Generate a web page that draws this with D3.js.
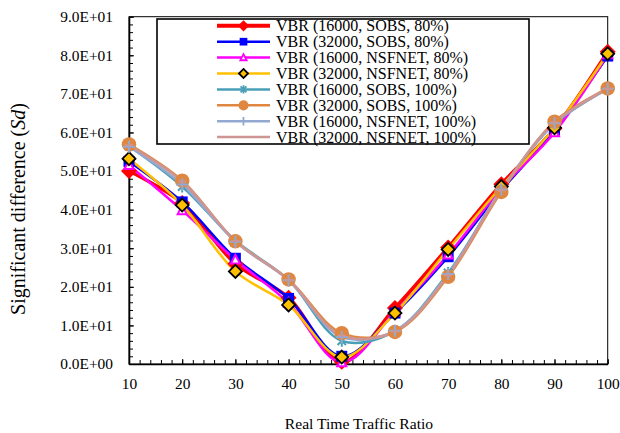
<!DOCTYPE html>
<html>
<head>
<meta charset="utf-8">
<script src="https://cdn.jsdelivr.net/npm/d3@7"></script>
</head>
<body style="margin:0;background:#fff">
<div id="chart"></div>
<script>

//Data
var ratios = [10, 20, 30, 40, 50, 60, 70, 80, 90, 100];
var seriesNames = [
    "VBR (16000, SOBS, 80%)",
    "VBR (32000, SOBS, 80%)",
    "VBR (16000, NSFNET, 80%)",
    "VBR (32000, NSFNET, 80%)",
    "VBR (16000, SOBS, 100%)",
    "VBR (32000, SOBS, 100%)",
    "VBR (16000, NSFNET, 100%)",
    "VBR (32000, NSFNET, 100%)"
];
var vbr16kSobs80  = [50.0, 41.7, 26.0, 17.2, 0.6, 14.5, 30.2, 46.6, 61.0, 80.9];
var vbr32kSobs80  = [52.5, 42.0, 27.4, 17.0, 2.0, 13.2, 27.8, 45.0, 60.6, 79.8];
var vbr16kNsf80   = [51.5, 39.8, 27.0, 15.8, 0.4, 13.5, 28.3, 45.5, 60.0, 80.2];
var vbr32kNsf80   = [53.2, 41.2, 24.0, 15.3, 1.8, 13.2, 29.7, 46.0, 61.2, 80.4];
var vbr16kSobs100 = [56.5, 46.0, 32.0, 21.8, 6.0, 8.5, 23.6, 45.0, 62.3, 71.3];
var vbr32kSobs100 = [56.9, 47.5, 31.8, 21.9, 8.0, 8.3, 22.6, 44.6, 62.8, 71.4];
var vbr16kNsf100  = [56.3, 46.5, 31.7, 21.7, 7.0, 8.6, 23.3, 45.2, 62.4, 71.3];
var vbr32kNsf100  = [56.7, 47.3, 31.9, 21.8, 7.4, 8.4, 23.0, 45.0, 62.6, 71.3];
var yTicks = [0, 10, 20, 30, 40, 50, 60, 70, 80, 90];

var seriesValues = [vbr16kSobs80, vbr32kSobs80, vbr16kNsf80, vbr32kNsf80,
                    vbr16kSobs100, vbr32kSobs100, vbr16kNsf100, vbr32kNsf100];

var FONT = "'Liberation Serif', 'Times New Roman', serif";

//Styles (one per series)
var styles = [
    {color: "#ff0000", width: 3.5, marker: "diamond", size: 16, fill: "#ff0000", stroke: "none"},
    {color: "#0000ff", width: 2.5, marker: "square", size: 11, fill: "#0000ff", stroke: "none"},
    {color: "#ff00ff", width: 2.5, marker: "triangle", size: 10, fill: "#ffffff", stroke: "#ff00ff"},
    {color: "#ffc000", width: 2.5, marker: "diamond", size: 13, fill: "#ffc000", stroke: "#000000"},
    {color: "#4a9fb8", width: 2.5, marker: "asterisk", size: 12, fill: "none", stroke: "#4a9fb8"},
    {color: "#df8741", width: 2.5, marker: "circle", size: 14.5, fill: "#df8741", stroke: "none"},
    {color: "#93a9d2", width: 2.5, marker: "plus", size: 12, fill: "none", stroke: "#93a9d2"},
    {color: "#cf9592", width: 2.5, marker: "dash", size: 8, fill: "none", stroke: "#cf9592"}
];

var chart = {

  //**************************************************************************
  //** markerPath
  //**************************************************************************
    markerPath: function(type, s){
        var h = s/2;
        switch (type) {
            case "diamond":
                return "M0," + (-h) + "L" + h + ",0L0," + h + "L" + (-h) + ",0Z";
            case "square":
                return "M" + (-h) + "," + (-h) + "h" + s + "v" + s + "h" + (-s) + "Z";
            case "triangle":
                return "M0," + (-h) + "L" + (h*0.9) + "," + (h*0.75) + "L" + (-h*0.9) + "," + (h*0.75) + "Z";
            case "circle":
                return d3.symbol(d3.symbolCircle, Math.PI*h*h)();
            case "asterisk":
                var d = h*0.7;
                return "M" + (-d) + "," + (-d) + "L" + d + "," + d +
                       "M" + d + "," + (-d) + "L" + (-d) + "," + d +
                       "M0," + (-h) + "L0," + h;
            case "plus":
                return "M" + (-h) + ",0L" + h + ",0M0," + (-h) + "L0," + h;
            case "dash":
                return "M" + (-h) + ",0L" + h + ",0";
        }
    },

  //**************************************************************************
  //** expFormat
  //**************************************************************************
    expFormat: function(v){
        if (v === 0) return "0.0E+00";
        var e = Math.floor(Math.log10(v));
        var m = v / Math.pow(10, e);
        return m.toFixed(1) + "E+" + (e < 10 ? "0" : "") + e;
    },

  //**************************************************************************
  //** render
  //**************************************************************************
    render: function(parent){
        var width = 620, height = 433;
        var margin = {top: 16.7, right: 12.3, bottom: 69, left: 129};
        var plotWidth = width - margin.left - margin.right;
        var plotHeight = height - margin.top - margin.bottom;

        var svg = d3.select(parent).append("svg")
            .attr("width", width)
            .attr("height", height)
            .style("font-family", FONT);

        var g = svg.append("g")
            .attr("transform", "translate(" + margin.left + "," + margin.top + ")");

        var x = d3.scaleLinear().domain([10, 100]).range([0, plotWidth]);
        var y = d3.scaleLinear().domain([0, 90]).range([plotHeight, 0]);

        //Frame
        g.append("rect")
            .attr("width", plotWidth)
            .attr("height", plotHeight)
            .attr("fill", "none")
            .attr("stroke", "#000")
            .attr("stroke-width", 1);

        //Minor ticks (inward)
        var xMinor = d3.range(10, 100.1, 2);
        g.append("g")
            .attr("transform", "translate(0," + plotHeight + ")")
            .call(d3.axisBottom(x).tickValues(xMinor).tickSize(-4).tickFormat(""))
            .call(function(a){ a.select(".domain").remove(); });

        var yMinor = d3.range(0, 90.1, 2);
        g.append("g")
            .call(d3.axisLeft(y).tickValues(yMinor).tickSize(-4).tickFormat(""))
            .call(function(a){ a.select(".domain").remove(); });

        //Major axes
        var xAxis = g.append("g")
            .attr("transform", "translate(0," + plotHeight + ")")
            .call(d3.axisBottom(x).tickValues(ratios).tickSize(-5).tickPadding(14).tickSizeOuter(0));

        var yAxis = g.append("g")
            .call(d3.axisLeft(y).tickValues(yTicks).tickSize(-5).tickPadding(16)
                .tickSizeOuter(0).tickFormat(chart.expFormat));

        g.selectAll(".tick text")
            .attr("font-family", null)
            .style("font-family", FONT)
            .style("font-size", "15.4px")
            .attr("fill", "#000");
        xAxis.attr("font-family", null);
        yAxis.attr("font-family", null);

        g.selectAll(".domain").attr("stroke-width", 1.6);
        g.selectAll(".tick line").attr("stroke-width", 1);

        //Lines
        var line = d3.line()
            .x(function(d, i){ return x(ratios[i]); })
            .y(function(d){ return y(d); })
            .curve(d3.curveCatmullRom.alpha(0.5));

        seriesValues.forEach(function(values, s){
            var st = styles[s];
            g.append("path")
                .datum(values)
                .attr("fill", "none")
                .attr("stroke", st.color)
                .attr("stroke-width", st.width)
                .attr("d", line);
        });

        //Markers
        seriesValues.forEach(function(values, s){
            var st = styles[s];
            g.append("g").selectAll("path")
                .data(values)
                .enter().append("path")
                .attr("transform", function(d, i){ return "translate(" + x(ratios[i]) + "," + y(d) + ")"; })
                .attr("d", chart.markerPath(st.marker, st.size))
                .attr("fill", st.fill)
                .attr("stroke", st.stroke)
                .attr("stroke-width", st.stroke === "#000000" ? 1.8 : 2);
        });

        //Legend
        var legend = svg.append("g").attr("transform", "translate(157,19)");
        legend.append("rect")
            .attr("width", 372)
            .attr("height", 125)
            .attr("fill", "#fff")
            .attr("stroke", "#000")
            .attr("stroke-width", 1.6);

        seriesNames.forEach(function(name, i){
            var st = styles[i];
            var row = legend.append("g").attr("transform", "translate(0," + (6.8 + i*15.9) + ")");
            row.append("line")
                .attr("x1", 60).attr("x2", 113)
                .attr("stroke", st.color)
                .attr("stroke-width", i === 0 ? 4 : 2.5);
            row.append("path")
                .attr("transform", "translate(86.5,0)")
                .attr("d", chart.markerPath(st.marker, st.size*0.7))
                .attr("fill", st.fill)
                .attr("stroke", st.stroke)
                .attr("stroke-width", 1.8);
            row.append("text")
                .attr("x", 119)
                .attr("dy", "0.35em")
                .style("font-family", FONT)
                .style("font-size", "16px")
                .text(name);
        });

        //Axis labels
        var yLabel = svg.append("text")
            .attr("transform", "translate(25,209) rotate(-90)")
            .style("text-anchor", "middle")
            .style("font-family", FONT)
            .style("font-size", "20px");
        yLabel.append("tspan").text("Significant difference (");
        yLabel.append("tspan").style("font-style", "italic").text("Sd");
        yLabel.append("tspan").text(")");

        svg.append("text")
            .attr("x", 359)
            .attr("y", 429)
            .style("text-anchor", "middle")
            .style("font-family", FONT)
            .style("font-size", "15.6px")
            .text("Real Time Traffic Ratio");
    }
};

chart.render(document.getElementById("chart"));
</script>
</body>
</html>
